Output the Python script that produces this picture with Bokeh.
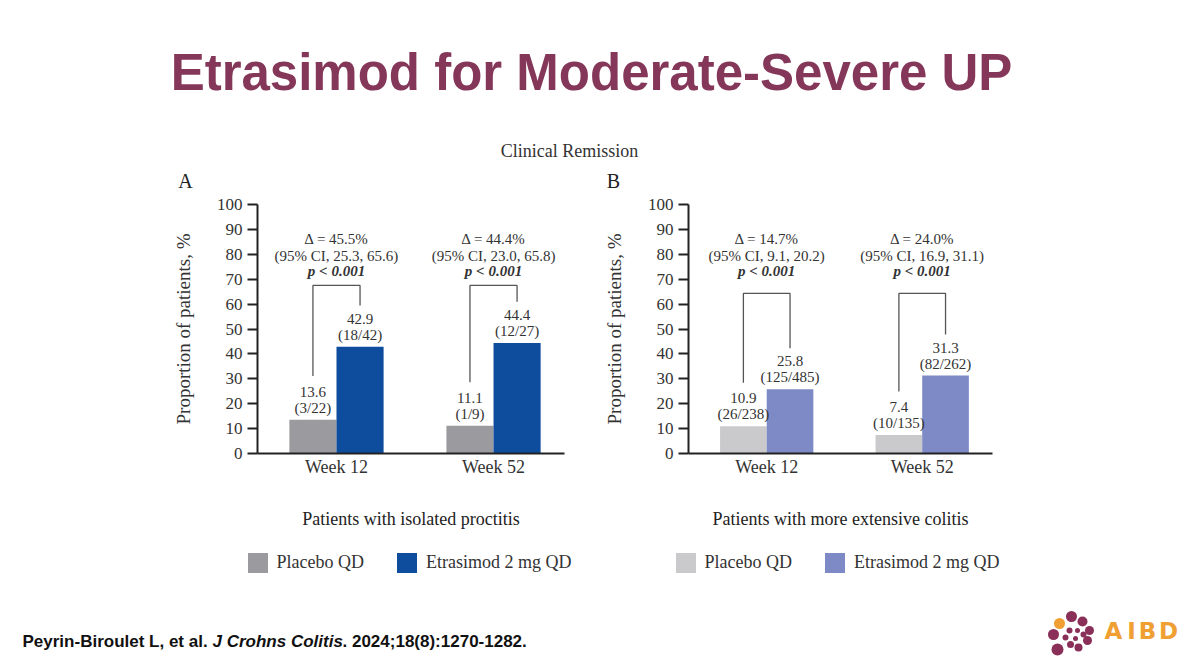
from bokeh.plotting import figure
from bokeh.layouts import column, row
from bokeh.models import Range1d, FixedTicker, Legend, LegendItem, ColumnDataSource
from bokeh.core.properties import value
from bokeh.embed import file_html
from bokeh.resources import INLINE

# ---------------- data ----------------
categories = ["Week 12", "Week 52"]
y_ticks = [0, 10, 20, 30, 40, 50, 60, 70, 80, 90, 100]

a_placebo = [13.6, 11.1]
a_placebo_n = ["(3/22)", "(1/9)"]
a_etrasimod = [42.9, 44.4]
a_etrasimod_n = ["(18/42)", "(12/27)"]
a_delta = ["Δ = 45.5%", "Δ = 44.4%"]
a_ci = ["(95% CI, 25.3, 65.6)", "(95% CI, 23.0, 65.8)"]
a_p = ["p < 0.001", "p < 0.001"]

b_placebo = [10.9, 7.4]
b_placebo_n = ["(26/238)", "(10/135)"]
b_etrasimod = [25.8, 31.3]
b_etrasimod_n = ["(125/485)", "(82/262)"]
b_delta = ["Δ = 14.7%", "Δ = 24.0%"]
b_ci = ["(95% CI, 9.1, 20.2)", "(95% CI, 16.9, 31.1)"]
b_p = ["p < 0.001", "p < 0.001"]

series_labels = ["Placebo QD", "Etrasimod 2 mg QD"]
a_colors = ["#9b9b9f", "#0e4c9e"]
b_colors = ["#cacacc", "#7d8ac6"]

SERIF = value("Liberation Serif")
SANS = value("Liberation Sans")
TXT = "#333333"
W = 1200


def blank(width, height, x0, x1, y0, y1):
    f = figure(width=width, height=height, x_range=Range1d(x0, x1), y_range=Range1d(y0, y1),
               x_axis_location=None, y_axis_location=None, toolbar_location=None,
               output_backend="svg", min_border=0)
    f.outline_line_color = None
    f.grid.visible = False
    return f


# ---------------- header (page y 0..192) ----------------
header = blank(W, 192, 0, W, 192, 0)
header.text(x=[591], y=[72], text=["Etrasimod for Moderate-Severe UP"], text_font=SANS,
            text_font_style="bold", text_font_size="51px", text_color="#85375A",
            text_align="center", text_baseline="middle")
header.text(x=[569], y=[150], text=["Clinical Remission"], text_font=SERIF,
            text_font_size="18px", text_color=TXT, text_align="center", text_baseline="middle")
header.text(x=[185, 613], y=[180, 180], text=["A", "B"], text_font=SERIF,
            text_font_size="20px", text_color="#222222", text_align="center", text_baseline="middle")


# ---------------- panels (page y 192..540) ----------------
def panel(placebo, placebo_n, etr, etr_n, delta, ci, pv, colors, subtitle,
          left_border, right_border, bracket_top):
    idx = list(range(len(categories)))
    p = figure(width=600, height=348, x_range=Range1d(-0.503, 1.452), y_range=Range1d(0, 100),
               toolbar_location=None, output_backend="svg",
               min_border_left=left_border, min_border_right=right_border,
               min_border_top=12, min_border_bottom=87)
    p.outline_line_color = None
    p.grid.visible = False

    src = ColumnDataSource(dict(
        xp=[i - 0.15 for i in idx], xe=[i + 0.15 for i in idx], xc=idx,
        pl=placebo, et=etr,
        pl_n=placebo_n, et_n=etr_n,
        pl_v=[f"{v:.1f}" for v in placebo], et_v=[f"{v:.1f}" for v in etr],
        delta=delta, ci=ci, pv=pv,
    ))
    p.vbar(x="xp", top="pl", width=0.3, bottom=0, source=src, fill_color=colors[0], line_color=None)
    p.vbar(x="xe", top="et", width=0.3, bottom=0, source=src, fill_color=colors[1], line_color=None)

    # value labels
    for xcol, ycol, vcol, ncol in (("xp", "pl", "pl_v", "pl_n"), ("xe", "et", "et_v", "et_n")):
        p.text(x=xcol, y=ycol, text=ncol, source=src, y_offset=-12, text_font=SERIF,
               text_font_size="15px", text_color=TXT, text_align="center", text_baseline="middle")
        p.text(x=xcol, y=ycol, text=vcol, source=src, y_offset=-28, text_font=SERIF,
               text_font_size="15px", text_color=TXT, text_align="center", text_baseline="middle")

    # brackets
    xs = [[i - 0.15, i - 0.15, i + 0.15, i + 0.15] for i in idx]
    ys = [[placebo[i] + 17.5, bracket_top, bracket_top, etr[i] + 16.5] for i in idx]
    p.multi_line(xs=xs, ys=ys, line_color="#555555", line_width=1.3)

    # delta annotations
    p.text(x="xc", y=86, text="delta", source=src, text_font=SERIF, text_font_size="15px",
           text_color=TXT, text_align="center", text_baseline="middle")
    p.text(x="xc", y=79.2, text="ci", source=src, text_font=SERIF, text_font_size="15px",
           text_color=TXT, text_align="center", text_baseline="middle")
    p.text(x="xc", y=73.1, text="pv", source=src, text_font=SERIF, text_font_size="15px",
           text_font_style="bold italic", text_color=TXT, text_align="center", text_baseline="middle")

    # axes
    p.yaxis.ticker = FixedTicker(ticks=y_ticks)
    p.yaxis.axis_label = "Proportion of patients, %"
    p.yaxis.axis_label_text_font = "Liberation Serif"
    p.yaxis.axis_label_text_font_style = "normal"
    p.yaxis.axis_label_text_font_size = "19px"
    p.yaxis.axis_label_text_color = TXT
    p.yaxis.axis_label_standoff = 20
    p.yaxis.major_label_text_font = "Liberation Serif"
    p.yaxis.major_label_text_font_size = "17px"
    p.yaxis.major_label_text_color = TXT
    p.yaxis.major_label_standoff = 5
    p.yaxis.major_tick_in = 0
    p.yaxis.major_tick_out = 10
    p.yaxis.minor_tick_line_color = None
    p.yaxis.major_tick_line_width = 2
    p.yaxis.major_tick_line_color = "#222222"

    p.xaxis.ticker = FixedTicker(ticks=idx)
    p.xaxis.major_label_overrides = {i: c for i, c in zip(idx, categories)}
    p.xaxis.axis_label = subtitle
    p.xaxis.axis_label_text_font = "Liberation Serif"
    p.xaxis.axis_label_text_font_style = "normal"
    p.xaxis.axis_label_text_font_size = "18px"
    p.xaxis.axis_label_text_color = "#222222"
    p.xaxis.axis_label_standoff = 29
    p.xaxis.major_label_text_font = "Liberation Serif"
    p.xaxis.major_label_text_font_size = "18px"
    p.xaxis.major_label_text_color = TXT
    p.xaxis.major_label_standoff = 3
    p.xaxis.major_tick_line_color = None
    p.xaxis.major_tick_out = 0
    p.xaxis.minor_tick_line_color = None

    p.axis.axis_line_width = 2
    p.axis.axis_line_color = "#222222"
    return p


pa = panel(a_placebo, a_placebo_n, a_etrasimod, a_etrasimod_n, a_delta, a_ci, a_p,
           a_colors, "Patients with isolated proctitis", 257, 36, 67.5)
pb = panel(b_placebo, b_placebo_n, b_etrasimod, b_etrasimod_n, b_delta, b_ci, b_p,
           b_colors, "Patients with more extensive colitis", 85, 208, 64.3)

# ---------------- legend strip (page y 540..585) ----------------
strip = blank(W, 45, 0, W, 585, 540)
for colors, left in ((a_colors, 244.5), (b_colors, 672.5)):
    # zero-size swatch sources; only the legend shows their colours
    rs = [strip.vbar(x=[600], top=[560], bottom=[560], width=0, fill_color=c, line_color=None)
          for c in colors]
    leg = Legend(items=[LegendItem(label=series_labels[0], renderers=[rs[0]]),
                        LegendItem(label=series_labels[1], renderers=[rs[1]])],
                 orientation="horizontal", location=(left, 10.5),
                 glyph_width=25, glyph_height=25, label_standoff=7, spacing=30,
                 padding=0, margin=0, border_line_color=None, background_fill_alpha=0,
                 label_text_font="Liberation Serif", label_text_font_size="18px",
                 label_text_color=TXT, label_height=25)
    strip.add_layout(leg)

# ---------------- footer (page y 585..663) ----------------
footer = blank(W, 78, 0, W, 663, 585)
cite_parts = ["Peyrin-Biroulet L, et al. ", "J Crohns Colitis", ". 2024;18(8):1270-1282."]
cite_x = [22, 212, 342]
cite_style = ["bold", "bold italic", "bold"]
for t, x, s in zip(cite_parts, cite_x, cite_style):
    footer.text(x=[x], y=[641], text=[t], text_font=SANS, text_font_style=s,
                text_font_size="17px", text_color="#111111", text_align="left", text_baseline="middle")

logo_x = [1071, 1082, 1089, 1087, 1078, 1070, 1057, 1053, 1069, 1077, 1083, 1065, 1075]
logo_y = [616, 621, 630, 640, 647, 644, 649, 634, 630, 630, 634, 637, 638]
logo_s = [11, 10, 9, 9, 8, 7, 12, 11, 6, 5, 6, 6, 5]
footer.scatter(x=logo_x, y=logo_y, size=logo_s, marker="circle", fill_color="#8a2f58", line_color=None)
footer.scatter(x=[1059], y=[623], size=11, marker="circle", fill_color="#f0a033", line_color=None)
footer.text(x=[1113, 1131, 1147, 1168], y=[630] * 4, text=["A", "I", "B", "D"],
            text_font=value("DejaVu Sans"), text_font_style="bold", text_font_size="23px",
            text_color="#f0a033", text_align="center", text_baseline="middle")

layout = column(header, row(pa, pb), strip, footer)
open("out.html", "w").write(file_html(layout, INLINE))
